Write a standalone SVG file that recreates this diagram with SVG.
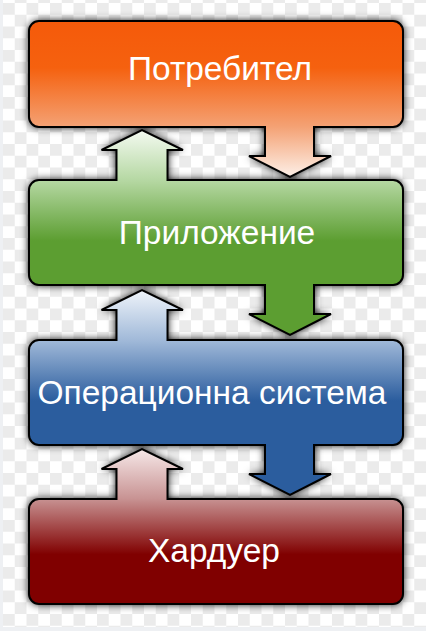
<svg xmlns="http://www.w3.org/2000/svg" width="426" height="631" viewBox="0 0 426 631">
  <defs>
    <pattern id="checker" x="3" y="3" width="23.5" height="23.5" patternUnits="userSpaceOnUse">
      <rect width="23.5" height="23.5" fill="#ffffff"/>
      <rect width="11.75" height="11.75" fill="#ebebeb"/>
      <rect x="11.75" y="11.75" width="11.75" height="11.75" fill="#ebebeb"/>
    </pattern>
    <filter id="shadow" x="-10%" y="-10%" width="120%" height="120%">
      <feGaussianBlur in="SourceAlpha" stdDeviation="4"/>
      <feComponentTransfer><feFuncA type="linear" slope="1.1"/></feComponentTransfer>
    </filter>
    <linearGradient id="gOrange" gradientUnits="userSpaceOnUse" x1="0" y1="21" x2="0" y2="177">
      <stop offset="0" stop-color="#f55a0a"/>
      <stop offset="0.3" stop-color="#f5610f"/>
      <stop offset="0.68" stop-color="#f4a275"/>
      <stop offset="1" stop-color="#fdf0e8"/>
    </linearGradient>
    <linearGradient id="gGreen" gradientUnits="userSpaceOnUse" x1="0" y1="130" x2="0" y2="335">
      <stop offset="0" stop-color="#f4faf1"/>
      <stop offset="0.25" stop-color="#b4d7a1"/>
      <stop offset="0.54" stop-color="#5c9e31"/>
      <stop offset="1" stop-color="#5c9e31"/>
    </linearGradient>
    <linearGradient id="gBlue" gradientUnits="userSpaceOnUse" x1="0" y1="290" x2="0" y2="495">
      <stop offset="0" stop-color="#eff4fa"/>
      <stop offset="0.25" stop-color="#9fb8d8"/>
      <stop offset="0.54" stop-color="#2b5d9e"/>
      <stop offset="1" stop-color="#2b5d9e"/>
    </linearGradient>
    <linearGradient id="gRed" gradientUnits="userSpaceOnUse" x1="0" y1="449" x2="0" y2="604">
      <stop offset="0" stop-color="#f6e8e8"/>
      <stop offset="0.32" stop-color="#c89393"/>
      <stop offset="0.68" stop-color="#800000"/>
      <stop offset="1" stop-color="#800000"/>
    </linearGradient>
    <path id="pOrange" d="M39,21 H393 A10,10 0 0 1 403,31 V117 A10,10 0 0 1 393,127 H314 V156 H331 L290,177 L249,156 H265 V127 H39 A10,10 0 0 1 29,117 V31 A10,10 0 0 1 39,21 Z"/>
    <path id="pGreen" d="M39,180 H116.5 V150 H101.5 L142,130 L183,150 H167.5 V180 H393 A10,10 0 0 1 403,190 V275 A10,10 0 0 1 393,285 H314 V314 H331 L290,335 L249,314 H265 V285 H39 A10,10 0 0 1 29,275 V190 A10,10 0 0 1 39,180 Z"/>
    <path id="pBlue" d="M39,340 H116.5 V310 H101.5 L142,290 L183,310 H167.5 V340 H393 A10,10 0 0 1 403,350 V435 A10,10 0 0 1 393,445 H314 V474 H331 L290,495 L249,474 H265 V445 H39 A10,10 0 0 1 29,435 V350 A10,10 0 0 1 39,340 Z"/>
    <path id="pRed" d="M39,499 H116.5 V469 H101.5 L142,449 L183,469 H167.5 V499 H393 A10,10 0 0 1 403,509 V594 A10,10 0 0 1 393,604 H39 A10,10 0 0 1 29,594 V509 A10,10 0 0 1 39,499 Z"/>
  </defs>
  <style>
    .shape { stroke: #000000; stroke-width: 2; stroke-linejoin: miter; }
    .label { font-family: "Liberation Sans", Arial, sans-serif; font-size: 33.5px; fill: #ffffff; text-anchor: middle; }
  </style>
  <rect x="0" y="0" width="426" height="631" fill="#eef0f3"/>
  <rect x="3" y="0" width="423" height="627" fill="url(#checker)"/>
  <g id="shadows" filter="url(#shadow)">
    <use href="#pOrange"/>
    <use href="#pGreen"/>
    <use href="#pBlue"/>
    <use href="#pRed"/>
  </g>
  <g id="connectors">
  </g>
  <g id="node-user">
    <use href="#pOrange" class="shape" fill="url(#gOrange)"/>
    <text class="label" x="220" y="80">Потребител</text>
  </g>
  <g id="node-application">
    <use href="#pGreen" class="shape" fill="url(#gGreen)"/>
    <text class="label" x="217" y="244">Приложение</text>
  </g>
  <g id="node-os">
    <use href="#pBlue" class="shape" fill="url(#gBlue)"/>
    <text class="label" x="212" y="404">Операционна система</text>
  </g>
  <g id="node-hardware">
    <use href="#pRed" class="shape" fill="url(#gRed)"/>
    <text class="label" x="214" y="562">Хардуер</text>
  </g>
</svg>
